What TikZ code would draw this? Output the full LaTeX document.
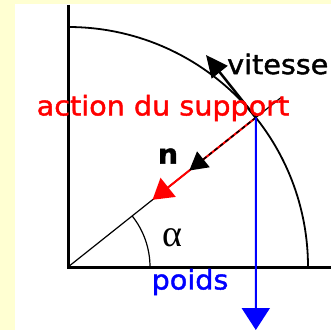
\documentclass[tikz,border=0pt]{standalone}
\usepackage{fontspec}
\setmainfont{DejaVu Sans}
\newfontfamily\lettres[FakeStretch=1.06, FakeBold=1.5]{DejaVu Sans}
\newfontfamily\grec{Liberation Serif}
\usetikzlibrary{arrows.meta}
\definecolor{fondjaune}{HTML}{FFFFD2}
\begin{document}
\begin{tikzpicture}[x=1pt, y=1pt, font=\lettres\fontsize{27}{30}\selectfont]
        % Fond
        \fill[fondjaune] (0,0) rectangle (331,330);
        \fill[white] (15,0) rectangle (331,326);
        \useasboundingbox (0,0) rectangle (331,330);

        % Axes et quart de cercle
        \coordinate (O) at (68,63);
        \coordinate (Y) at (68,325);
        \coordinate (X) at (331,63);
        \draw[line width=3pt] (Y) -- (O) -- (X);
        \draw[line width=1.8pt] (O) ++(0,240) arc (90:0:240);

        % Rayon et angle
        \path (O) ++(38.5:240) coordinate (P);
        \path (O) ++(38.5:272) coordinate (R);
        \draw[line width=1.2pt] (O) -- (R);
        \draw[line width=1.2pt] (O) ++(82,0) arc (0:38.5:82);
        \node[font=\grec\fontsize{38}{40}\selectfont] (alpha) at (172,92) {α};

        % Vecteurs
        \path (O) ++(38.5:108) coordinate (Rtip);
        \path (O) ++(38.5:155) coordinate (Ntip);
        \path (P) ++(128.5:80) coordinate (Vtip);
        \coordinate (Ptip) at (255.8,0);
        \draw[red, line width=2pt, -{Triangle[length=20pt, width=24pt]}] (P) -- (Rtip);
        \draw[line width=1.5pt, dash pattern=on 4pt off 3pt, -{Triangle[length=18pt, width=20pt]}] (P) -- (Ntip);
        \draw[line width=2.5pt, -{Triangle[length=22pt, width=20pt]}] (P) -- (Vtip);
        \draw[blue, line width=2pt, -{Triangle[length=22pt, width=28pt]}] (P) -- (Ptip);

        % Textes
        \node[anchor=west, inner sep=0pt] (vitesse) at (227,266) {vitesse};
        \node[red] (action) at (163,222) {action du support};
        \node[font=\lettres\bfseries\fontsize{27}{30}\selectfont] (n) at (168,174) {n};
        \node[blue] (poids) at (190,48) {poids};
\end{tikzpicture}
\end{document}
